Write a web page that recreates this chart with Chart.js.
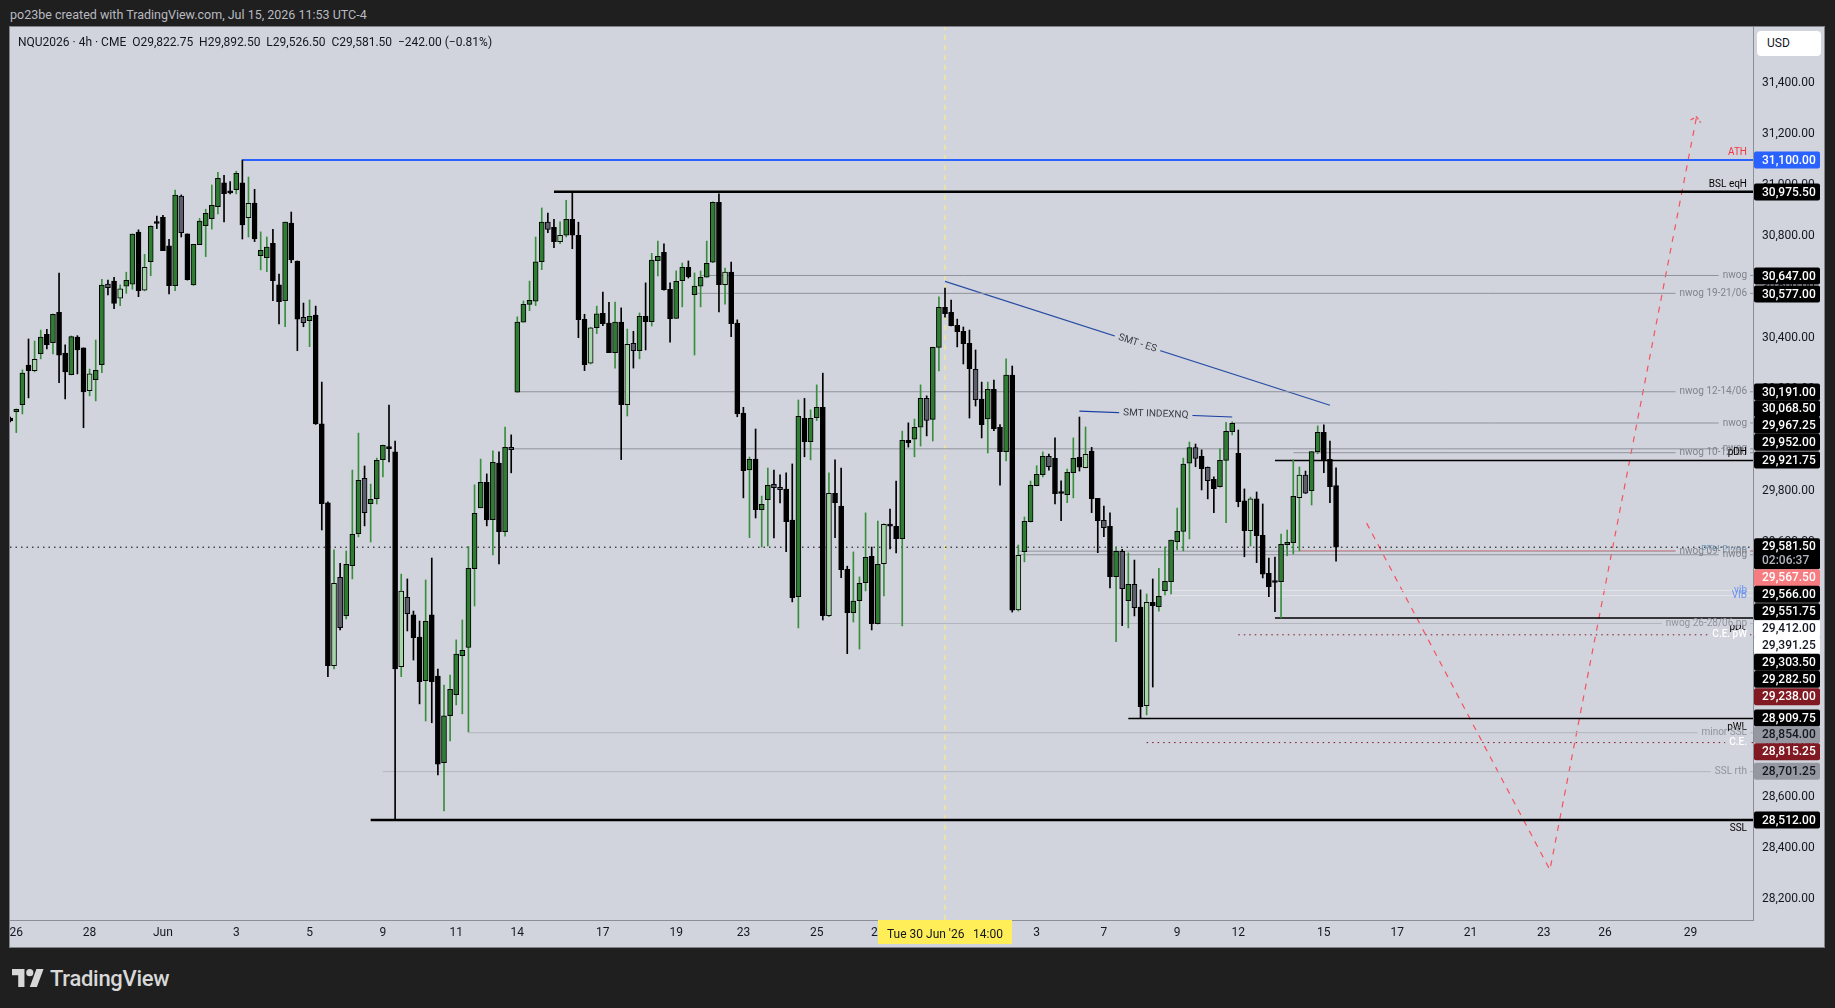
<!DOCTYPE html>
<html>
<head>
<meta charset="utf-8">
<title>NQU2026 4h</title>
<script src="https://cdn.jsdelivr.net/npm/chart.js@4"></script>
<style>
  html, body { margin: 0; padding: 0; width: 1835px; height: 1008px; overflow: hidden; background: #1f1f1f; font-family: Roboto, sans-serif; }
  #wrap { position: absolute; left: 10px; top: 27px; width: 1814px; height: 920px; outline: 1px solid #80838c; }
  #credit { position: absolute; left: 10px; top: 7px; font-size: 12.5px; line-height: 16px; color: #b8bac0; white-space: nowrap; }
  #legend { position: absolute; left: 18px; top: 34px; font-size: 12px; line-height: 16px; color: #131722; white-space: pre; }
  #usd { position: absolute; left: 1757px; top: 31px; width: 54px; height: 25px; padding-left: 10px; background: #fff; border-radius: 4px; font-size: 12px; line-height: 25px; color: #131722; }
  #brand { position: absolute; left: 12px; top: 965px; height: 26px; display: flex; align-items: center; gap: 6px; color: #d8d8d8; font-size: 22px; font-weight: 500; letter-spacing: -0.3px; }
</style>
</head>
<body>
<div id="wrap"><canvas id="chart" width="1814" height="920"></canvas></div>
<div id="credit">po23be created with TradingView.com, Jul 15, 2026 11:53 UTC-4</div>
<div id="legend">NQU2026 · 4h · CME  O29,822.75  H29,892.50  L29,526.50  C29,581.50  −242.00 (−0.81%)</div>
<div id="usd">USD</div>
<div id="brand">
  <svg width="32" height="18" viewBox="0 0 36 20"><path fill="#d8d8d8" d="M14 20H7V7H0V0h14zM28 20h-8L27.500 0h8z"/><circle fill="#d8d8d8" cx="20" cy="4" r="4"/></svg>
  <span>TradingView</span>
</div>
<script>
// candles, oldest first
const opens = [
  30088,30113,30140,30296,30274,30340,30416,30384,30503,30343,
  30258,30405,30363,30195,30238,30297,30613,30625,30558,30605,
  30613,30817,30589,30701,30853,30875,30763,30607,30958,30810,
  30610,30768,30842,30870,30917,31010,30973,30984,31010,30874,
  30931,30725,30717,30773,30610,30548,30853,30704,30483,30470,
  30492,30065,29755,29117,29463,29313,29509,29635,29852,29752,
  29772,29925,29970,29955,29113,29385,29316,29229,29058,29316,
  29076,28736,28921,29003,29156,29188,29497,29736,29836,29689,
  29911,29642,29973,30189,30464,30534,30546,30701,30856,30836,
  30780,30805,30867,30805,30475,30303,30442,30499,30460,30344,
  30464,30140,30381,30352,30487,30466,30705,30738,30593,30479,
  30627,30679,30572,30605,30640,30699,30934,30611,30660,30460,
  30107,29885,29927,29729,29768,29828,29816,29809,29688,29387,
  30087,29995,30089,30130,29313,29793,29743,29495,29325,29372,
  29442,29546,29282,29517,29666,29663,29615,30001,30005,30052,
  30165,30083,30365,30522,30503,30452,30428,30381,30279,30162,
  30085,30201,30052,29956,30256,29336,29564,29682,29823,29866,
  29938,29930,29794,29787,29874,29934,29893,29958,29773,29687,
  29663,29466,29565,29372,29436,29347,28960,29365,29348,29411,
  29446,29603,29643,29911,29972,29938,29895,29848,29819,29922,
  30035,29950,29763,29646,29771,29628,29479,29445,29446,29591,
  29599,29776,29864,29803,29956,30032,29926,29822.75
];
const closes = [
  30077,30122,30264,30274,30318,30405,30376,30495,30335,30269,
  30407,30355,30190,30261,30275,30609,30599,30537,30595,30628,
  30809,30587,30679,30840,30851,30744,30607,30962,30815,30631,
  30769,30860,30891,30922,31028,30968,30971,31048,30845,30930,
  30790,30746,30758,30627,30544,30856,30708,30476,30462,30487,
  30065,29752,29117,29440,29266,29514,29632,29844,29717,29769,
  29922,29981,29968,29104,29409,29321,29227,29054,29291,29054,
  28731,28920,29024,29162,29177,29499,29714,29836,29688,29914,
  29642,29973,29964,30464,30534,30550,30701,30856,30828,30780,
  30805,30867,30805,30474,30297,30442,30497,30458,30344,30464,
  30140,30377,30352,30487,30466,30707,30722,30591,30478,30624,
  30679,30642,30605,30640,30695,30934,30611,30660,30458,30104,
  29882,29926,29729,29750,29824,29815,29807,29682,29384,30095,
  29995,30087,30130,29313,29793,29756,29493,29325,29370,29440,
  29542,29282,29514,29671,29664,29615,30001,29991,30052,30165,
  30079,30365,30522,30497,30450,30427,30380,30282,30160,30062,
  30201,30046,29956,30256,29335,29550,29683,29824,29867,29938,
  29897,29791,29792,29875,29930,29895,29946,29772,29686,29658,
  29466,29565,29419,29436,29344,28956,29365,29352,29389,29448,
  29609,29644,29907,29972,29930,29889,29842,29811,29922,30036,
  30067,29760,29646,29771,29627,29476,29427,29443,29593,29601,
  29781,29864,29793,29956,30032,29922,29819,29581.5
];
const highs = [
  30092,30124,30277,30398,30390,30433,30436,30496,30656,30375,
  30410,30411,30363,30280,30394,30632,30629,30640,30610,30660,
  30810,30826,30730,30842,30880,30883,30789,30982,30963,30810,
  30769,30871,30907,31002,31052,31040,31015,31056,31100,31033,
  30985,30818,30798,30828,30653,30856,30896,30704,30539,30551,
  30527,30229,29759,29571,29518,29567,29884,30029,29900,29829,
  29931,29982,30139,29998,29476,29457,29331,29292,29453,29539,
  29104,29041,29080,29218,29296,29584,29826,29927,29869,29959,
  29955,30053,30022,30485,30547,30625,30798,30912,30892,30867,
  30857,30942,30973,30856,30495,30444,30527,30582,30542,30543,
  30520,30437,30428,30500,30618,30734,30782,30771,30618,30665,
  30696,30704,30657,30665,30782,30936,30967,30676,30700,30473,
  30130,29935,30045,29782,29892,29884,29865,29873,29908,30159,
  30165,30120,30218,30264,29873,29924,29892,29507,29563,29465,
  29716,29582,29684,29673,29731,29841,30037,30069,30084,30218,
  30175,30366,30563,30598,30551,30476,30445,30433,30355,30229,
  30229,30237,30062,30320,30292,29590,29700,29841,29901,29955,
  29947,30010,29842,29888,30010,30092,30053,29973,29773,29743,
  29716,29582,29573,29559,29531,29414,29398,29457,29499,29582,
  29609,29735,29931,29994,29986,29963,29896,29857,29967,30071,
  30073,30041,29810,29778,29798,29751,29539,29543,29633,29649,
  29924,29896,29880,29956,30057,30061,29998,29892.5
];
const lows = [
  30073,30031,30104,30167,30269,30320,30359,30339,30227,30163,
  30257,30261,30050,30175,30155,30266,30571,30517,30529,30577,
  30593,30564,30587,30646,30831,30744,30575,30587,30798,30629,
  30608,30768,30721,30829,30888,30857,30967,30967,30790,30798,
  30780,30669,30662,30548,30457,30446,30697,30352,30446,30368,
  30063,29649,29074,29104,29257,29300,29457,29622,29665,29602,
  29751,29857,29916,28512,29074,29253,29139,28967,28900,28893,
  28688,28547,28822,28963,28928,28857,29351,29736,29665,29551,
  29516,29625,29873,30189,30464,30509,30529,30670,30815,30756,
  30772,30798,30752,30403,30274,30300,30419,30450,30344,30284,
  29925,30096,30284,30320,30355,30449,30645,30589,30386,30478,
  30524,30637,30335,30524,30640,30697,30504,30535,30407,30093,
  29775,29619,29696,29582,29586,29618,29755,29564,29367,29265,
  29936,29924,30078,29296,29309,29619,29462,29164,29288,29182,
  29410,29257,29280,29390,29575,29559,29273,29974,29936,29978,
  30018,29998,30273,30484,30449,30367,30300,30088,30135,30010,
  29951,30038,29825,29920,29327,29331,29524,29680,29822,29857,
  29884,29751,29686,29756,29775,29880,29892,29717,29560,29623,
  29422,29211,29274,29265,29312,28912,28924,29033,29331,29394,
  29398,29571,29567,29614,29897,29806,29771,29717,29817,29678,
  30022,29740,29544,29586,29521,29461,29387,29329,29304,29548,
  29555,29567,29792,29747,29948,29874,29756,29526.5
];
// u up, d down, l light up, g grey down
const barKinds = [
  'duudlududd', 'uddluugdlu', 'udludddugd', 'uuuuuddudl', 'duudduddgu',
  'dddlguuugu', 'uuddlgddud', 'duuuuuuudu', 'duguuuuugd', 'ludddluddu',
  'dlguduuddu', 'uduuuudldd', 'duduuggddu', 'duudlddduu', 'uduldduduu',
  'guudddddgd', 'uddudluuuu', 'gdduudlddg', 'dugugdlduu', 'uuuugdgduu',
  'uddldddduu', 'ulguuddd'
].join('').split('');

const xTickPositions = [1, 13, 25, 37, 49, 61, 73, 83, 97, 109, 120, 132, 142, 168, 179, 191, 201, 215, 227, 239, 251, 261, 275];
const xTickLabels = ['26', '28', 'Jun', '3', '5', '9', '11', '14', '17', '19', '23', '25', '29', '3', '7', '9', '12', '15', '17', '21', '23', '26', '29'];
const yTickValues = [28200, 28400, 28600, 28800, 29000, 29200, 29400, 29600, 29800, 30000, 30200, 30400, 30600, 30800, 31000, 31200, 31400];

// horizontal levels drawn on the chart
const levelLabels = ['ATH', 'BSL eqH', 'nwog', 'nwog 19-21/06', 'nwog 12-14/06', 'nwog', 'nwog', 'nwog 10-12/06', 'pDH', 'RTH 2 gap', 'nwog 09-11/06', 'nwog', 'vib', 'VIB', 'pDL', 'nwog 26-28/06 pp', 'C.E. pW', 'pWL', 'minor SSL', 'C.E.', 'SSL rth', 'SSL'];
const levelPrices = [31100, 30975.5, 30647, 30577, 30191, 30068.5, 29967.25, 29952, 29921.75, 29567.5, 29566, 29551.75, 29412, 29391.25, 29303.5, 29282.5, 29238, 28909.75, 28854, 28815.25, 28701.25, 28512];
const levelStarts = [38, 89, 113, 112, 83, 200, 82, 210, 207, 211, 165, 165, 190, 190, 207, 142, 201, 183, 75, 186, 61, 59];
const levelKinds = ['ath', 'major', 'nwog', 'nwog', 'nwog', 'nwog', 'nwog', 'nwog', 'minorUp', 'pink', 'nwog', 'nwog', 'vib', 'vib', 'minorDown', 'soft', 'ce', 'minorDown', 'soft', 'ce', 'soft', 'majorDown'];

// price tags on the right axis, top to bottom
const tagPrices = [31100, 30975.5, 30647, 30577, 30191, 30068.5, 29967.25, 29952, 29921.75, 29581.5, 29567.5, 29566, 29551.75, 29412, 29391.25, 29303.5, 29282.5, 29238, 28909.75, 28854, 28815.25, 28701.25, 28512];
const tagKinds = ['blue', 'black', 'black', 'black', 'black', 'black', 'black', 'black', 'black', 'last', 'pink', 'black', 'black', 'white', 'white', 'black', 'black', 'red', 'black', 'grey', 'red', 'grey', 'black'];

// drawings
const smtEsIdx = [153, 216];
const smtEsPrices = [30624, 30138];
const smtNqIdx = [175, 200];
const smtNqPrices = [30115, 30092];
const forecastIdx = [222, 252, 276];
const forecastPrices = [29676, 28316, 31269];
const arrowIdx = [275, 276, 276.7];
const arrowPrices = [31257, 31269, 31246];

const lastClose = 29581.5;
const crosshairIdx = 153;
const xMin = -0.03, xMax = 285.24, yMin = 28119.5, yMax = 31621.5;

const BG = '#d1d4dc';
const GREEN = '#2e7d32', WICK_GREEN = '#388e3c', LIGHT = '#a5d6a7', GREY_BODY = '#5d606b';
const LEVEL_STYLE = {
  ath: { color: '#2962ff', width: 2, text: '#f23645', dy: -7 },
  major: { color: '#000', width: 2.5, text: '#000', dy: -7 },
  majorDown: { color: '#000', width: 2.5, text: '#000', dy: 9 },
  minorUp: { color: '#000', width: 1.5, text: '#000', dy: -8 },
  minorDown: { color: '#000', width: 1.5, text: '#000', dy: 9 },
  nwog: { color: '#90939c', width: 1, text: '#80838c', dy: 0, gap: true },
  soft: { color: '#b2b5be', width: 1, text: '#90939c', dy: 0, gap: true },
  pink: { color: '#d98a90', width: 1, text: '#6f9dbb', dy: 0 },
  vib: { color: '#e3e5ea', width: 1, text: '#6e93ee', dy: 0 },
  ce: { color: '#801922', width: 1, text: '#fff', dy: 0, dash: [1.5, 4], gap: true, bold: true }
};
const TAG_STYLE = {
  black: ['#000', '#fff'], blue: ['#2962ff', '#fff'], last: ['#000', '#fff'], pink: ['#f77c80', '#fff'],
  white: ['#fff', '#131722'], red: ['#801922', '#fff'], grey: ['#9598a1', '#131722']
};
// tags get stacked by the platform, so they sit at these centres instead of their own price
const TAG_Y = [133, 165, 249, 267, 365, 381.7, 398.3, 415.3, 433, 519.7, 550.7, 567.3, 584.7, 601.7, 618.3, 635.3, 652.3, 669.7, 691, 707.7, 724.7, 744.3, 793];

function fmt(v) { return v.toLocaleString('en-US', { minimumFractionDigits: 2, maximumFractionDigits: 2 }); }
function line(data, color, width, dash) {
  return { type: 'line', data, borderColor: color, borderWidth: width, borderDash: dash || [], pointRadius: 0, tension: 0, order: 3, fill: false };
}
function pairs(xs, ys) { return xs.map((x, i) => ({ x, y: ys[i] })); }

const bodies = opens.map((o, i) => ({ x: i, y: [o, closes[i]] }));
const wicks = opens.map((o, i) => ({ x: i, y: [lows[i], highs[i]] }));

const levelSets = levelPrices.map((p, i) => {
  const s = LEVEL_STYLE[levelKinds[i]];
  return line([{ x: levelStarts[i], y: p }, { x: xMax, y: p }], s.color, s.width, s.dash);
});

const overlay = {
  id: 'overlay',
  beforeDraw(chart) {
    const c = chart.ctx;
    c.save();
    c.fillStyle = BG;
    c.fillRect(0, 0, chart.width, chart.height);
    c.restore();
  },
  afterDatasetsDraw(chart) {
    const c = chart.ctx, y = chart.scales.y, x = chart.scales.x, right = chart.chartArea.right - 6;
    c.save();
    c.textBaseline = 'middle';
    c.textAlign = 'right';
    levelLabels.forEach((text, i) => {
      const s = LEVEL_STYLE[levelKinds[i]], py = y.getPixelForValue(levelPrices[i]);
      c.font = (s.bold ? '500 ' : '') + '10px Roboto';
      if (s.gap) {
        c.fillStyle = BG;
        c.fillRect(right - c.measureText(text).width - 4, py - 1.5, c.measureText(text).width + 7, 3);
      }
      c.fillStyle = s.text;
      c.fillText(text, right, py + s.dy);
    });
    // rotated and plain notes on the trend lines
    const mid = (xs, ys) => [x.getPixelForValue((xs[0] + xs[1]) / 2), y.getPixelForValue((ys[0] + ys[1]) / 2)];
    const note = (text, xs, ys, color) => {
      const [mx, my] = mid(xs, ys);
      const a = Math.atan2(y.getPixelForValue(ys[1]) - y.getPixelForValue(ys[0]), x.getPixelForValue(xs[1]) - x.getPixelForValue(xs[0]));
      c.save();
      c.translate(mx, my);
      c.rotate(a);
      c.font = '10px Roboto';
      const w = c.measureText(text).width;
      c.fillStyle = BG;
      c.fillRect(-w / 2 - 4, -3, w + 8, 6);
      c.fillStyle = color;
      c.textAlign = 'center';
      c.fillText(text, 0, 0);
      c.restore();
    };
    note('SMT - ES', smtEsIdx, smtEsPrices, '#3a3d45');
    note('SMT INDEXNQ', smtNqIdx, smtNqPrices, '#3a3d45');
    c.restore();
  },
  afterDraw(chart) {
    const c = chart.ctx, a = chart.chartArea;
    c.save();
    c.textBaseline = 'middle';
    c.font = '500 12px Roboto';
    tagPrices.forEach((p, i) => {
      const [bg, fg] = TAG_STYLE[tagKinds[i]];
      const cy = TAG_Y[i], big = tagKinds[i] === 'last';
      c.fillStyle = bg;
      c.beginPath();
      c.roundRect(a.right + 1, cy - 8.5, 66, big ? 31 : 17, 2);
      c.fill();
      c.fillStyle = fg;
      c.textAlign = 'left';
      c.fillText(fmt(p), a.right + 9, cy + 0.5);
      if (big) {
        c.fillStyle = '#b2b5be';
        c.fillText('02:06:37', a.right + 9, cy + 14.5);
      }
    });
    // crosshair time tag
    c.fillStyle = '#ffee58';
    c.fillRect(868, a.bottom, 134, 24);
    c.fillStyle = '#131722';
    c.font = '12px Roboto';
    c.textAlign = 'left';
    c.fillText("Tue 30 Jun '26", 877, a.bottom + 15);
    c.fillText('14:00', 963, a.bottom + 15);
    c.restore();
  }
};

new Chart(document.getElementById('chart'), {
  type: 'bar',
  data: {
    datasets: [
      { data: bodies, barThickness: 5, borderWidth: 1, borderSkipped: false, borderColor: '#000', minBarLength: 2, grouped: false, order: 1,
        backgroundColor: (ctx) => ({ u: GREEN, d: '#000', l: LIGHT, g: GREY_BODY })[barKinds[ctx.dataIndex]] },
      { data: wicks, barThickness: 1, grouped: false, order: 2,
        backgroundColor: (ctx) => ({ u: WICK_GREEN, d: '#000', l: WICK_GREEN, g: '#000' })[barKinds[ctx.dataIndex]] },
      ...levelSets,
      line([{ x: xMin, y: lastClose }, { x: xMax, y: lastClose }], '#000', 1, [1.5, 4]),
      line([{ x: crosshairIdx, y: yMin }, { x: crosshairIdx, y: yMax }], '#fff176', 1, [5, 5]),
      line(pairs(smtEsIdx, smtEsPrices), '#2a4ea6', 1.2),
      line(pairs(smtNqIdx, smtNqPrices), '#1a3fa3', 1.2),
      line(pairs(forecastIdx, forecastPrices), '#f7525f', 1.2, [6, 6]),
      line(pairs(arrowIdx, arrowPrices), '#f7525f', 1.2, [4, 2])
    ]
  },
  options: {
    responsive: false,
    animation: false,
    events: [],
    layout: { padding: 0 },
    plugins: { legend: { display: false }, tooltip: { enabled: false } },
    scales: {
      x: {
        type: 'linear',
        offset: false,
        min: xMin,
        max: xMax,
        grid: { display: false, drawTicks: false },
        border: { color: '#8a8e98' },
        afterBuildTicks(ax) { ax.ticks = xTickPositions.map((value) => ({ value })); },
        afterFit(ax) { ax.height = 27; ax.paddingLeft = 0; ax.paddingRight = 0; },
        ticks: {
          autoSkip: false, maxRotation: 0, minRotation: 0, padding: 6, color: '#131722',
          font: { family: 'Roboto', size: 12 },
          callback: (v, i) => xTickLabels[i]
        }
      },
      y: {
        position: 'right',
        min: yMin,
        max: yMax,
        grid: { display: false, drawTicks: false },
        border: { color: '#8a8e98' },
        afterBuildTicks(ax) { ax.ticks = yTickValues.map((value) => ({ value })); },
        afterFit(ax) { ax.width = 71; ax.paddingTop = 0; ax.paddingBottom = 0; },
        ticks: {
          autoSkip: false, padding: 9, color: '#131722',
          font: { family: 'Roboto', size: 12 },
          callback: (v) => fmt(v)
        }
      }
    }
  },
  plugins: [overlay]
});
</script>
</body>
</html>
